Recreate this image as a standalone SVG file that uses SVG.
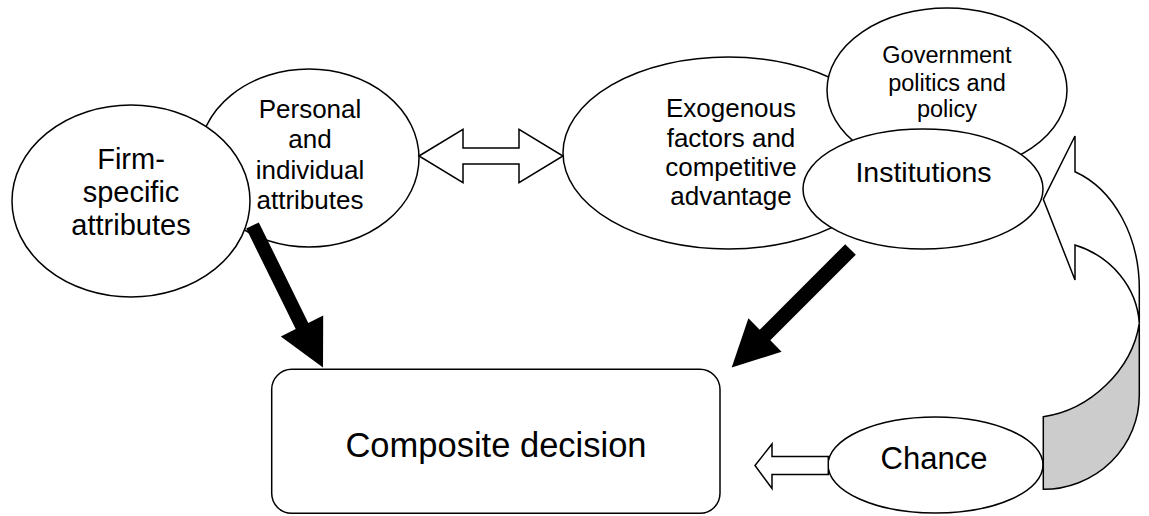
<svg xmlns="http://www.w3.org/2000/svg" width="1149" height="516" viewBox="0 0 1149 516">
<style>
.node{fill:#fff;stroke:#000;stroke-width:1.5}
.lbl{font-family:"Liberation Sans",Arial,sans-serif;fill:#000;text-anchor:middle}
.block{fill:#fff;stroke:#000;stroke-width:1.5;stroke-linejoin:miter}
.solid{fill:#000;stroke:none}
.shade{fill:#cccccc;stroke:#000;stroke-width:1.5;stroke-linejoin:miter}
</style>
<defs>
<clipPath id="exoClip"><rect x="550" y="40" width="360" height="171"/></clipPath>
</defs>
<rect width="1149" height="516" fill="#fff"/>

<g id="personal">
<ellipse class="node" cx="309" cy="158" rx="110" ry="89"/>
<text class="lbl" font-size="26"><tspan x="310" y="118">Personal</tspan><tspan x="310" y="148">and</tspan><tspan x="310" y="178.5">individual</tspan><tspan x="310" y="208.5">attributes</tspan></text>
</g>

<g id="firm">
<ellipse class="node" cx="131" cy="201" rx="119" ry="96"/>
<text class="lbl" font-size="29"><tspan x="131" y="169">Firm-</tspan><tspan x="131" y="202">specific</tspan><tspan x="131" y="235">attributes</tspan></text>
</g>

<g id="exogenous">
<ellipse class="node" cx="728" cy="153" rx="165" ry="96"/>
<text class="lbl" font-size="26" clip-path="url(#exoClip)"><tspan x="731" y="117">Exogenous</tspan><tspan x="731" y="146.5">factors and</tspan><tspan x="731" y="176">competitive</tspan><tspan x="731" y="205">advantage</tspan></text>
</g>

<g id="government">
<ellipse class="node" cx="947" cy="90" rx="120" ry="82"/>
<text class="lbl" font-size="23.5"><tspan x="947" y="63">Government</tspan><tspan x="947" y="90.5">politics and</tspan><tspan x="947" y="117">policy</tspan></text>
</g>

<g id="institutions">
<ellipse class="node" cx="923" cy="189" rx="120" ry="60"/>
<text class="lbl" font-size="28.5" x="923.5" y="182">Institutions</text>
</g>

<g id="composite">
<rect class="node" x="271.7" y="369.3" width="448.3" height="144" rx="20" ry="20"/>
<text class="lbl" font-size="34.5" x="496" y="456.7">Composite decision</text>
</g>

<g id="chance">
<ellipse class="node" cx="935.5" cy="465" rx="107.5" ry="48"/>
<text class="lbl" font-size="31" x="934" y="469">Chance</text>
</g>

<g id="connectors">
<polygon class="block" points="419,156 463,129.3 463,148 519,148 519,129.3 563,156 519,182.7 519,164 463,164 463,182.7"/>
<polygon class="solid" points="246.2,228.6 258.8,222.4 308.3,322.9 323.2,315.4 323,367.5 280.8,336.6 295.7,329.1"/>
<polygon class="solid" points="845.2,244.2 855.8,254.8 770.3,340.3 781.6,351.8 731.7,367.5 748.4,318.2 759.7,329.7"/>
<polygon class="block" points="755,465.5 772,444 772,456.5 828.3,456.5 828.3,474.5 772,474.5 772,488.5"/>
<path class="shade" d="M1139.3,323.3 C1132,370 1090,410 1043.3,416.7 L1043.3,489.3 A96,94.3 0 0,0 1139.3,395 Z"/>
<path class="block" d="M1043.3,199.3 L1075,136 L1075,171.7 A96,124 0 0,1 1139.3,290 L1139.3,323.3 A94,88 0 0,0 1075,245 L1075,280 Z"/>
</g>
</svg>
